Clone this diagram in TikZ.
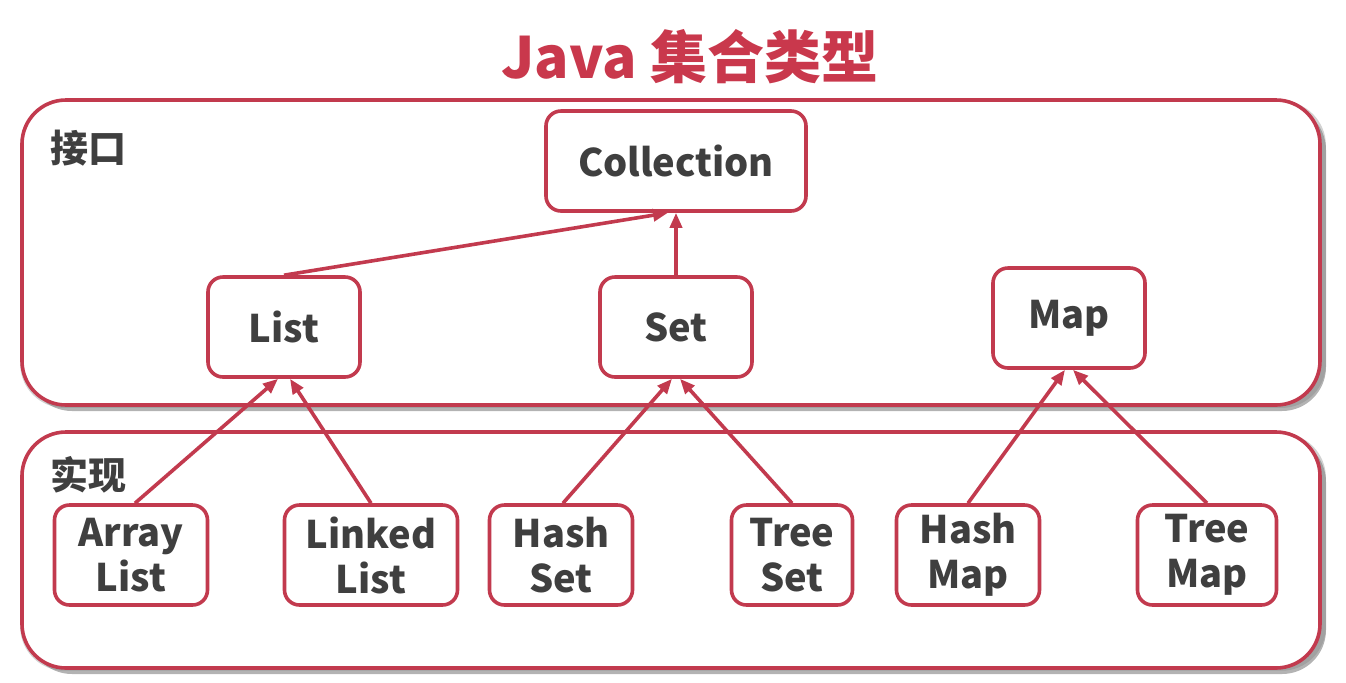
\documentclass[tikz,border=0pt]{standalone}
\usepackage{fontspec}
\newfontfamily\cjk{Noto Sans CJK SC}
\usetikzlibrary{arrows.meta,shadows}
\definecolor{jred}{HTML}{C23A4E}
\definecolor{jtitle}{HTML}{C9384C}
\definecolor{jtext}{HTML}{3F3F3F}
\tikzset{
  groupbox/.style={draw=jred, line width=1.8pt, rounded corners=22pt, fill=white,
    drop shadow={shadow xshift=1pt, shadow yshift=-1pt, shadow scale=1.006, fill=black!35, opacity=0.5},
    drop shadow={shadow xshift=3pt, shadow yshift=-3pt, fill=black!50, opacity=0.6}},
  typebox/.style={draw=jred, line width=1.8pt, rounded corners=7.5pt, fill=white,
    minimum height=50pt, align=center, text=jtext,
    font=\cjk\bfseries\fontsize{19}{22.5}\selectfont},
  grouplabel/.style={text=jtext, font=\cjk\bfseries\fontsize{19}{20}\selectfont},
  inherit/.style={draw=jred, line width=1.8pt, -{Triangle[length=7.5pt,width=6pt]}}
}
\begin{document}
\begin{tikzpicture}[x=0.5pt,y=-0.5pt]
    \useasboundingbox (0,0) rectangle (1346,682);
    \node[text=jtitle, font=\cjk\bfseries\fontsize{28.5}{30}\selectfont] (title) at (690,57) {Java 集合类型};
    % interfaces and implementations
    \draw[groupbox] (22,100) rectangle (1320,405);
    \draw[groupbox] (22,432) rectangle (1320,668);
    \node[grouplabel] (iface) at (88,148) {接口};
    \node[grouplabel] (impl) at (88,475) {实现};
    \node[typebox, minimum width=130pt] (coll) at (676,161) {Collection};
    \node[typebox, minimum width=76pt] (list) at (284,327) {List};
    \node[typebox, minimum width=76pt] (set) at (676,327) {Set};
    \node[typebox, minimum width=76pt] (map) at (1069,318) {Map};
    \node[typebox, minimum width=76.5pt] (alist) at (131,555) {Array\\List};
    \node[typebox, minimum width=86.5pt] (llist) at (371,555) {Linked\\List};
    \node[typebox, minimum width=71.5pt] (hset) at (561,555) {Hash\\Set};
    \node[typebox, minimum width=60.5pt] (tset) at (792,555) {Tree\\Set};
    \node[typebox, minimum width=71.5pt] (hmap) at (968,555) {Hash\\Map};
    \node[typebox, minimum width=69.5pt] (tmap) at (1207,555) {Tree\\Map};
    % arrows
    \draw[inherit] (list.north) -- ([xshift=-4pt]coll.south);
    \draw[inherit] (set.north) -- (coll.south);
    \draw[inherit] ([xshift=2pt]alist.north) -- ([xshift=-3pt]list.south);
    \draw[inherit] (llist.north) -- ([xshift=3pt]list.south);
    \draw[inherit] ([xshift=1pt]hset.north) -- ([xshift=-2pt]set.south);
    \draw[inherit] (tset.north) -- ([xshift=2pt]set.south);
    \draw[inherit] (hmap.north) -- ([xshift=-2pt]map.south);
    \draw[inherit] (tmap.north) -- ([xshift=2pt]map.south);
\end{tikzpicture}
\end{document}
